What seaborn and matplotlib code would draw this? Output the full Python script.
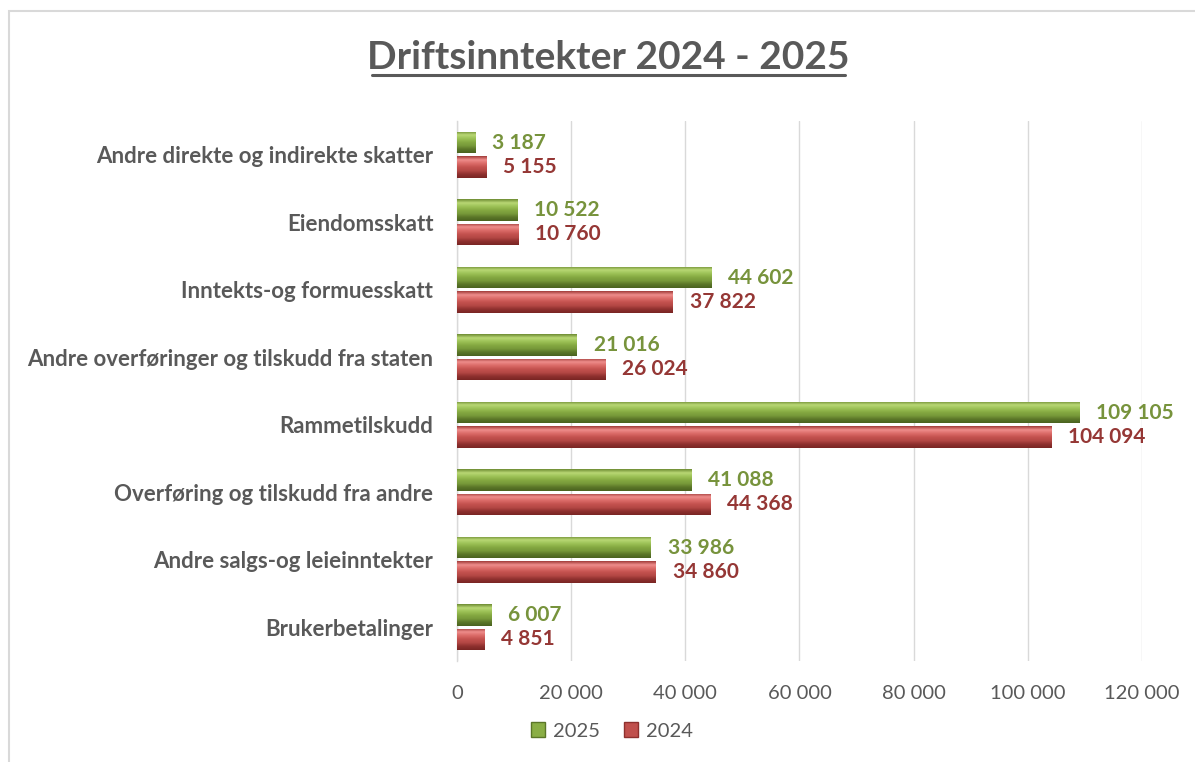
import numpy as np
import pandas as pd
import matplotlib.pyplot as plt
import seaborn as sns
from matplotlib.colors import LinearSegmentedColormap
from matplotlib.patches import Patch, Rectangle
from matplotlib.lines import Line2D

categories = ['Andre direkte og indirekte skatter', 'Eiendomsskatt', 'Inntekts-og formuesskatt',
              'Andre overføringer og tilskudd fra staten', 'Rammetilskudd',
              'Overføring og tilskudd fra andre', 'Andre salgs-og leieinntekter', 'Brukerbetalinger']
values_2025 = [3187, 10522, 44602, 21016, 109105, 41088, 33986, 6007]
values_2024 = [5155, 10760, 37822, 26024, 104094, 44368, 34860, 4851]
years = ['2025', '2024']
x_ticks = [0, 20000, 40000, 60000, 80000, 100000, 120000]

def fmt(v):
    return f'{v:,}'.replace(',', ' ')

df = pd.DataFrame({
    'kategori': categories * 2,
    'verdi': values_2025 + values_2024,
    'år': ['2025'] * len(categories) + ['2024'] * len(categories),
})

sns.set_style('white')
plt.rcParams['font.family'] = ['Lato', 'DejaVu Sans']

green = '#8AAE45'
red = '#C0504D'
label_green = '#77933C'
label_red = '#953735'
text_grey = '#595959'

fig = plt.figure(figsize=(11.95, 7.62), dpi=100)
ax = fig.add_axes([0.3824, 0.1325, 0.5732, 0.7087])

sns.barplot(data=df, y='kategori', x='verdi', hue='år', hue_order=years,
            palette=[green, red], orient='h', width=0.72, gap=0.12, ax=ax,
            legend=False, edgecolor='none')

# bevel-like gradient on each bar
cmaps = {
    green: LinearSegmentedColormap.from_list('g', ['#6E8C33', '#B9D774', '#9DC257', '#86AA42', '#77993A', '#5B7628', '#4A6320']),
    red: LinearSegmentedColormap.from_list('r', ['#A23C3A', '#EE8D8B', '#DB6B68', '#C4524F', '#B44744', '#8E302E', '#7A2624']),
}
grad = np.linspace(0, 1, 64).reshape(-1, 1)
bars = list(ax.patches)
for i, p in enumerate(bars):
    col = green if i < len(categories) else red
    x0, y0, w, h = p.get_x(), p.get_y(), p.get_width(), p.get_height()
    im = ax.imshow(grad, extent=[x0, x0 + w, y0 + h, y0], origin='upper', aspect='auto',
                   cmap=cmaps[col], zorder=3)
    im.set_clip_path(p)
    p.set_zorder(2)

ax.set_xlim(0, 120000)
ax.set_ylim(len(categories) - 0.5, -0.5)

# value labels
for i, p in enumerate(bars):
    val = values_2025[i] if i < len(categories) else values_2024[i - len(categories)]
    c = label_green if i < len(categories) else label_red
    ax.annotate(fmt(val), (p.get_x() + p.get_width(), p.get_y() + p.get_height() / 2),
                xytext=(12, 0), textcoords='offset points', va='center', ha='left',
                fontsize=15, fontweight='bold', color=c, zorder=5)

ax.set_xticks(x_ticks)
ax.set_xticklabels([fmt(t) for t in x_ticks], fontsize=14.5, color=text_grey)
ax.tick_params(axis='y', labelsize=16, labelcolor=text_grey, length=0, pad=17)
ax.tick_params(axis='x', length=0, pad=17)
for lbl in ax.get_yticklabels():
    lbl.set_fontweight('bold')
ax.set_xlabel('')
ax.set_ylabel('')
ax.grid(axis='x', color='#D9D9D9', linewidth=1)
ax.set_axisbelow(True)
for s in ['top', 'right', 'bottom']:
    ax.spines[s].set_visible(False)
ax.spines['left'].set_color('#D9D9D9')
ax.spines['left'].set_linewidth(1)

# title with underline
fig.text(0.5088, 1 - 69 / 762, 'Driftsinntekter 2024 - 2025', ha='center', va='baseline',
         fontsize=28, fontweight='bold', color=text_grey)
fig.add_artist(Line2D([372 / 1195, 845 / 1195], [1 - 75 / 762] * 2, color=text_grey, linewidth=2.2))

# legend
handles = [Patch(facecolor=green, edgecolor='#5B7628', label='2025'),
           Patch(facecolor=red, edgecolor='#8E302E', label='2024')]
fig.legend(handles=handles, loc='center', bbox_to_anchor=(0.512, 1 - 731 / 762), ncol=2,
           frameon=False, fontsize=14.5, handlelength=0.7, handleheight=0.7,
           handletextpad=0.4, columnspacing=1.2, labelcolor=text_grey)

# chart border
fig.add_artist(Rectangle((9 / 1195, -0.05), 1.2, 1.05 - 11 / 762, transform=fig.transFigure,
                         fill=False, edgecolor='#D9D9D9', linewidth=1.5))

fig.savefig('out.png', dpi=100)
